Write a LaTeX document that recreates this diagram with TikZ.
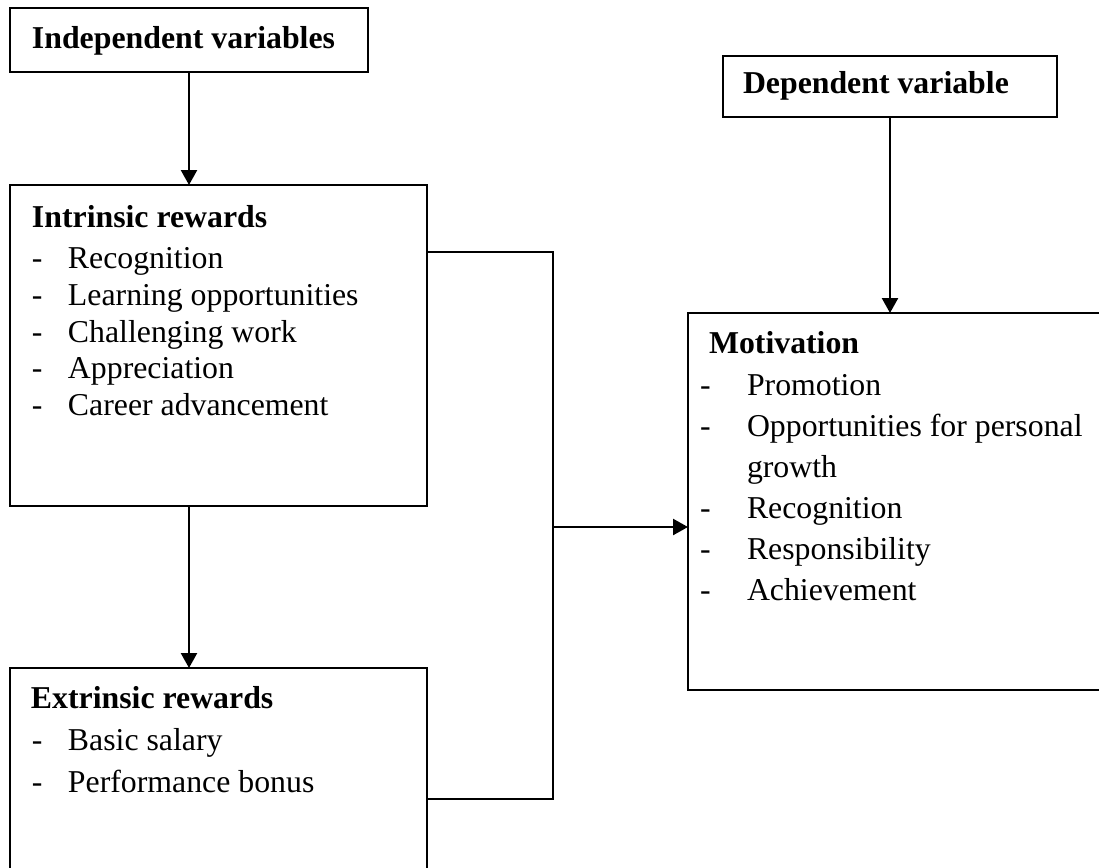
\documentclass[tikz,border=0pt]{standalone}
\usepackage{fontspec}
\setmainfont{Liberation Serif}
\usetikzlibrary{arrows.meta}
\begin{document}
\begin{tikzpicture}
	[x=0.5pt, y=-0.5pt,
	every node/.style={inner sep=0pt, outer sep=0pt, font=\fontsize{15.9}{18}\selectfont},
	box/.style={rectangle, draw, line width=1.2pt, anchor=north west},
	title/.style={anchor=base west, font=\fontsize{15.9}{18}\selectfont\bfseries},
	item/.style={anchor=base west},
	link/.style={line width=1.2pt, -{Triangle[length=7.5pt, width=8pt]}}]
	\useasboundingbox (0,0) rectangle (1099,868);
	% boxes
	\node[box, minimum width=179pt, minimum height=32pt] (indep) at (10,8) {};
	\node[box, minimum width=208.5pt, minimum height=160.5pt] (intrinsic) at (10,185) {};
	\node[box, minimum width=208.5pt, minimum height=120pt] (extrinsic) at (10,668) {};
	\node[box, minimum width=167pt, minimum height=30.5pt] (dep) at (723,56) {};
	\node[box, minimum width=225pt, minimum height=188.5pt] (motivation) at (688,313) {};
	% texts
	\node[title] (indep-t) at (32,48) {Independent variables};
	\node[title] (dep-t) at (743,93) {Dependent variable};
	\node[title] (intrinsic-t) at (32,227) {Intrinsic rewards};
	\foreach \txt [count=\i from 0] in {Recognition, Learning opportunities, Challenging work, Appreciation, Career advancement}
	{
		\node[item] (intrinsic-d\i) at (32,{268.5+36.75*\i}) {-};
		\node[item] (intrinsic-\i) at (68,{268.5+36.75*\i}) {\txt};
	}
	\node[title] (extrinsic-t) at (31,708) {Extrinsic rewards};
	\foreach \txt [count=\i from 0] in {Basic salary, Performance bonus}
	{
		\node[item] (extrinsic-d\i) at (32,{750+42*\i}) {-};
		\node[item] (extrinsic-\i) at (68,{750+42*\i}) {\txt};
	}
	\node[title] (motivation-t) at (709,353) {Motivation};
	\foreach \txt/\y in {Promotion/395, Opportunities for personal/436, Recognition/518, Responsibility/559, Achievement/600}
	{
		\node[item] at (700,\y) {-};
		\node[item] at (747,\y) {\txt};
	}
	\node[item] (motivation-g) at (747,477) {growth};
	% connectors
	\coordinate (jtop) at (553,252);
	\coordinate (jbot) at (553,799);
	\coordinate (jmid) at (553,527);
	\draw[link] (indep.south) -- (indep.south |- intrinsic.north);
	\draw[link] (indep.south |- intrinsic.south) -- (indep.south |- extrinsic.north);
	\draw[link] (dep.south) -- (dep.south |- motivation.north);
	\draw[line width=1.2pt] (intrinsic.east |- jtop) -- (jtop) -- (jbot) -- (extrinsic.east |- jbot);
	\draw[link] (jmid) -- (jmid -| motivation.west);
\end{tikzpicture}
\end{document}
